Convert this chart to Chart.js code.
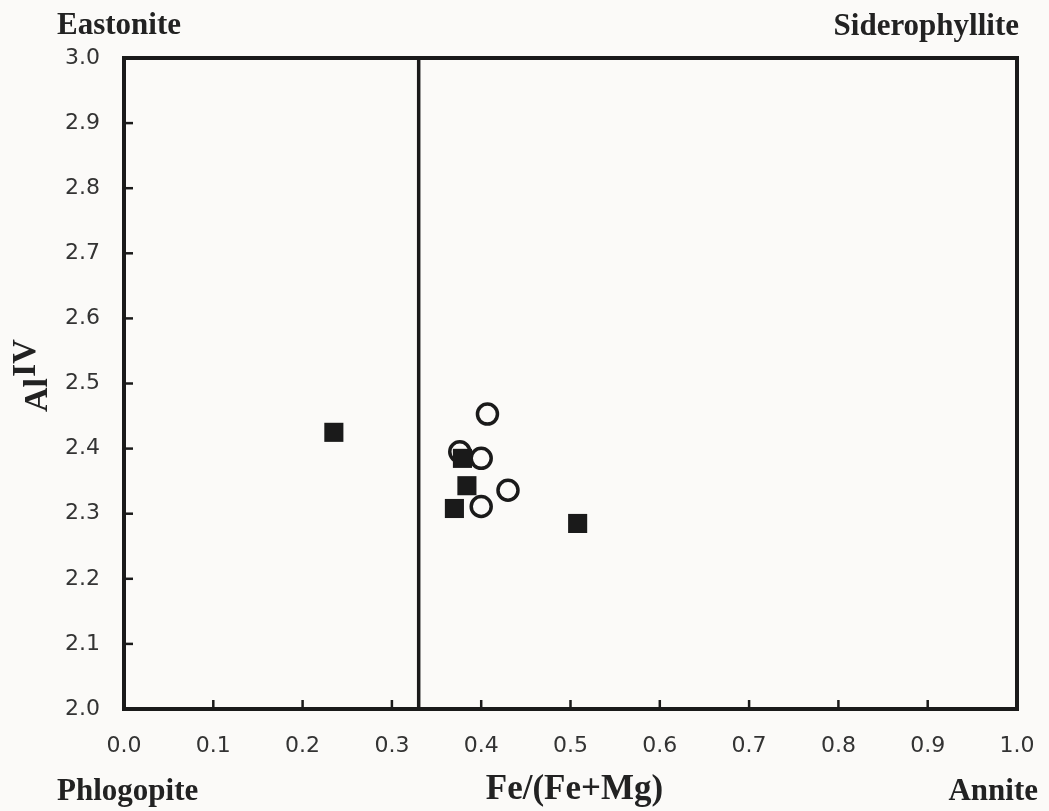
<!DOCTYPE html>
<html>
<head>
<meta charset="utf-8">
<script src="https://cdn.jsdelivr.net/npm/chart.js@4"></script>
<style>
  body { margin: 0; background: #fbfaf8; }
  canvas { display: block; }
</style>
</head>
<body>
<canvas id="myChart" width="1049" height="811"></canvas>
<script>
// data
const squareX = [0.235, 0.379, 0.384, 0.370, 0.508];
const squareY = [2.425, 2.385, 2.343, 2.308, 2.285];
const circleX = [0.407, 0.376, 0.400, 0.430, 0.400];
const circleY = [2.453, 2.395, 2.385, 2.336, 2.311];
const boundaryX = [0.33, 0.33];
const boundaryY = [2.0, 3.0];
const xTicks = [0.0, 0.1, 0.2, 0.3, 0.4, 0.5, 0.6, 0.7, 0.8, 0.9, 1.0];
const yTicks = [2.0, 2.1, 2.2, 2.3, 2.4, 2.5, 2.6, 2.7, 2.8, 2.9, 3.0];

const ink = '#1a1a1a';
const toPts = (xs, ys) => xs.map((x, i) => ({x: x, y: ys[i]}));

// frame, inner tick marks and the end-member / axis labels
const decor = {
  id: 'decor',
  afterDatasetsDraw(chart) {
    const c = chart.ctx, a = chart.chartArea;
    const sx = chart.scales.x, sy = chart.scales.y;
    c.save();
    c.strokeStyle = ink;
    c.lineWidth = 2.5;
    xTicks.slice(1, -1).forEach(v => {
      const px = sx.getPixelForValue(v);
      c.beginPath(); c.moveTo(px, a.bottom); c.lineTo(px, a.bottom - 9); c.stroke();
    });
    yTicks.slice(1, -1).forEach(v => {
      const py = sy.getPixelForValue(v);
      c.beginPath(); c.moveTo(a.left, py); c.lineTo(a.left + 9, py); c.stroke();
    });
    c.lineWidth = 4;
    c.strokeRect(a.left, a.top, a.right - a.left, a.bottom - a.top);

    c.fillStyle = '#222';
    c.font = 'bold 31px "Liberation Serif", serif';
    c.textBaseline = 'alphabetic';
    c.textAlign = 'left';
    c.fillText('Eastonite', 57, 34);
    c.fillText('Phlogopite', 57, 800);
    c.textAlign = 'right';
    c.fillText('Siderophyllite', 1019, 35);
    c.fillText('Annite', 1038, 800);

    c.font = 'bold 35px "Liberation Serif", serif';
    c.textAlign = 'center';
    c.fillText('Fe/(Fe+Mg)', (a.left + a.right) / 2 + 4, 799);

    // y title: Al with superscript IV
    c.translate(47, 412);
    c.rotate(-Math.PI / 2);
    c.textAlign = 'left';
    c.font = 'bold 34px "Liberation Serif", serif';
    c.fillText('Al', 0, 0);
    const w = c.measureText('Al').width;
    c.fillText('IV', w + 1, -12);
    c.restore();
  }
};

const noPad = s => { s.paddingLeft = 0; s.paddingRight = 0; s.paddingTop = 0; s.paddingBottom = 0; };

const ctx = document.getElementById('myChart');
const cht = new Chart(ctx, {
  type: 'scatter',
  data: {
    datasets: [
      {
        label: 'squares',
        data: toPts(squareX, squareY),
        pointStyle: 'rect',
        pointRadius: 13.5,
        pointBackgroundColor: ink,
        pointBorderWidth: 0,
        order: 0
      },
      {
        label: 'circles',
        data: toPts(circleX, circleY),
        pointStyle: 'circle',
        pointRadius: 10,
        pointBackgroundColor: 'rgba(0,0,0,0)',
        pointBorderColor: ink,
        pointBorderWidth: 3.5,
        order: 1
      },
      {
        type: 'line',
        label: 'boundary',
        data: toPts(boundaryX, boundaryY),
        borderColor: ink,
        borderWidth: 3.5,
        pointRadius: 0,
        order: 2
      }
    ]
  },
  options: {
    responsive: false,
    animation: false,
    layout: { padding: { left: 0, top: 58, right: 32, bottom: 0 } },
    plugins: { legend: { display: false }, tooltip: { enabled: false } },
    scales: {
      x: {
        type: 'linear',
        min: 0, max: 1,
        afterBuildTicks: s => { s.ticks = xTicks.map(v => ({value: v})); },
        afterFit: s => { s.height = 102; noPad(s); },
        grid: { display: false, drawTicks: false },
        border: { display: false },
        ticks: {
          padding: 24,
          color: '#333',
          font: { family: '"DejaVu Sans", sans-serif', size: 22 },
          callback: v => v.toFixed(1)
        }
      },
      y: {
        type: 'linear',
        min: 2, max: 3,
        afterBuildTicks: s => { s.ticks = yTicks.map(v => ({value: v})); },
        afterFit: s => { s.width = 124; noPad(s); },
        grid: { display: false, drawTicks: false },
        border: { display: false },
        ticks: {
          padding: 24,
          color: '#333',
          font: { family: '"DejaVu Sans", sans-serif', size: 22 },
          callback: v => v.toFixed(1)
        }
      }
    }
  },
  plugins: [decor]
});
</script>
</body>
</html>
